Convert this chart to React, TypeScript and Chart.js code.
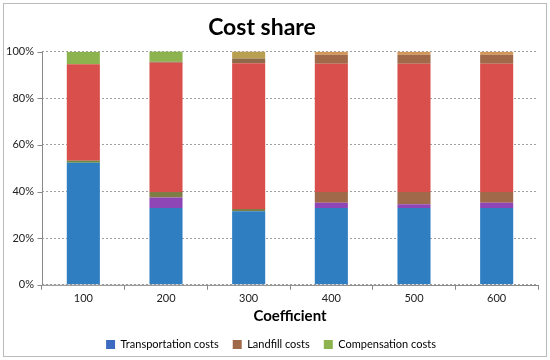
import React, { useEffect, useRef } from "react";
import { Chart, registerables } from "chart.js";

Chart.register(...registerables);

const categories = ["100", "200", "300", "400", "500", "600"];
const transportation = [52.3, 32.9, 31.5, 32.9, 32.9, 32.9];
const purpleShare = [0, 4.5, 0, 2.3, 1.6, 2.3];
const landfill = [0.9, 2.4, 1.0, 4.6, 5.3, 4.6];
const redShare = [41.4, 55.4, 62.5, 55.0, 55.0, 55.0];
const brownTop = [0, 0.5, 2.0, 3.9, 3.9, 3.9];
const compensation = [5.3, 4.5, 3.0, 1.2, 1.2, 1.2];
const yTicks = [0, 20, 40, 60, 80, 100];
const titleText = "Cost share";

const FONT = "Lato, 'Open Sans', sans-serif";

export default function App() {
  const ref = useRef<HTMLCanvasElement | null>(null);
  useEffect(() => {
    document.body.style.margin = "0";
    const ctx = ref.current!.getContext("2d")!;
    const chart = new Chart(ctx, {
      type: "bar",
      data: {
        labels: categories,
        datasets: [
          { label: "Transportation costs", data: transportation, backgroundColor: "#2E7EC1" },
          { label: "", data: purpleShare, backgroundColor: "#8E45B5" },
          {
            label: "Landfill costs",
            data: landfill,
            backgroundColor: ["#6E8C45", "#7D7D45", "#7D7D45", "#A0694A", "#A0694A", "#A0694A"],
          },
          { label: "", data: redShare, backgroundColor: "#D94F4B" },
          {
            label: "",
            data: brownTop,
            backgroundColor: ["#A0694A", "#8E6A48", "#8E6A48", "#A0694A", "#A0694A", "#A0694A"],
          },
          {
            label: "Compensation costs",
            data: compensation,
            backgroundColor: ["#8DB34E", "#8DB34E", "#B9A050", "#D39858", "#D39858", "#D39858"],
          },
        ],
      },
      options: {
        animation: false,
        responsive: false,
        maintainAspectRatio: false,
        layout: { padding: { left: 4, right: 12, top: 0, bottom: 0 } },
        datasets: { bar: { categoryPercentage: 1, barPercentage: 0.4, borderWidth: 0 } },
        plugins: {
          title: {
            display: true,
            text: titleText,
            color: "rgba(0,0,0,0)",
            font: { family: FONT, size: 23, weight: "bold" },
            padding: { top: 14, bottom: 10 },
          },
          legend: {
            position: "bottom",
            labels: {
              boxWidth: 9,
              boxHeight: 9,
              padding: 14,
              color: "#222",
              font: { family: FONT, size: 11 },
              generateLabels: () => [
                { text: "Transportation costs", fillStyle: "#3C6BC1", strokeStyle: "#3C6BC1", lineWidth: 0, datasetIndex: 0 },
                { text: "Landfill costs", fillStyle: "#A0694A", strokeStyle: "#A0694A", lineWidth: 0, datasetIndex: 2 },
                { text: "Compensation costs", fillStyle: "#8DB34E", strokeStyle: "#8DB34E", lineWidth: 0, datasetIndex: 5 },
              ] as any,
            },
          },
          tooltip: { enabled: false },
        },
        scales: {
          x: {
            stacked: true,
            offset: true,
            grid: {
              display: true,
              drawOnChartArea: false,
              offset: true,
              tickLength: 5,
              color: "#888",
            },
            border: { display: false },
            ticks: { color: "#222", font: { family: FONT, size: 11 }, padding: 2 },
            title: {
              display: true,
              text: "Coefficient",
              color: "#000",
              font: { family: FONT, size: 15, weight: "bold" },
              padding: { top: 0, bottom: 0 },
            },
          },
          y: {
            stacked: true,
            min: 0,
            max: 100,
            afterBuildTicks: (scale: any) => {
              scale.ticks = yTicks.map((v) => ({ value: v }));
            },
            afterFit: (scale: any) => {
              scale.width = 38;
            },
            grid: {
              color: "#A0A0A0",
              drawTicks: false,
            },
            border: { display: false, dash: [2, 2] },
            ticks: {
              color: "#222",
              font: { family: FONT, size: 11 },
              padding: 8,
              callback: (v: any) => v + "%",
            },
          },
        },
      },
      plugins: [
        {
          id: "axesAndTitle",
          afterDraw: (c: any) => {
            const { ctx: g, chartArea: a } = c;
            const ys = c.scales.y;
            g.save();
            g.strokeStyle = "#888";
            g.lineWidth = 1;
            g.setLineDash([]);
            g.beginPath();
            const lx = Math.round(a.left) + 0.5;
            g.moveTo(lx, a.top);
            g.lineTo(lx, a.bottom + 0.5);
            g.lineTo(a.right, Math.round(a.bottom) + 0.5);
            yTicks.forEach((v) => {
              const py = Math.round(ys.getPixelForValue(v)) + 0.5;
              g.moveTo(lx - 5, py);
              g.lineTo(lx, py);
            });
            g.stroke();
            const t = c.titleBlock;
            g.fillStyle = "#000";
            g.font = "bold 23px " + FONT;
            g.textAlign = "center";
            g.textBaseline = "middle";
            g.fillText(titleText, 262, t.top + 14 + (t.height - 24) / 2);
            g.restore();
          },
        },
      ],
    } as any);
    return () => chart.destroy();
  }, []);
  return (
    <div
      style={{
        position: "absolute",
        left: 0,
        top: 0,
        width: 550,
        height: 360,
        background: "#fff",
      }}
    >
      <canvas ref={ref} width={550} height={360} style={{ display: "block" }} />
      <div
        style={{
          position: "absolute",
          left: 3,
          top: 3,
          width: 542,
          height: 352,
          border: "1px solid #BBBBBB",
          pointerEvents: "none",
        }}
      />
    </div>
  );
}
